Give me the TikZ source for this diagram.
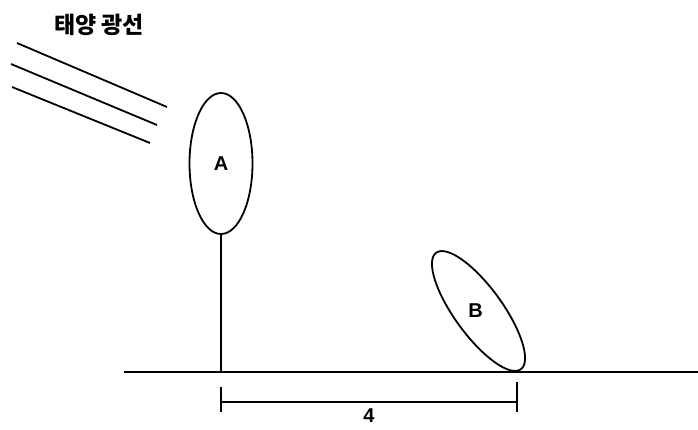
\documentclass[tikz,border=0pt]{standalone}
\usepackage{fontspec}
\setmainfont{Liberation Sans}
\newfontfamily\kofont{Noto Sans CJK KR}
\usepackage{tikz}
\usetikzlibrary{positioning,shapes.geometric}

\begin{document}
\begin{tikzpicture}[x=1pt,y=-1pt,
ln/.style={line width=1.8pt,black},
ell/.style={draw=black,line width=1.8pt,ellipse,inner sep=0pt},
lbl/.style={font=\fontsize{20}{20}\selectfont\bfseries,draw=none,fill=none},
title/.style={font=\kofont\fontsize{23}{23}\selectfont\bfseries}
]
\useasboundingbox (0,0) rectangle (698,429);
\node[title] (sun) at (99,25) {태양 광선};
\draw[ln] (17,43) -- (167,107);
\draw[ln] (11,64) -- (157,125);
\draw[ln] (12,87) -- (150,143);
\coordinate (g0) at (124,372);
\coordinate (g1) at (698,372);
\draw[ln] (g0) -- (g1);
\node[ell,minimum width=63,minimum height=141] (A) at (221,163.5) {};
\node[lbl] at (A.center) {A};
\draw[ln] (A.south) -- (A.south |- g0);
\node[ell,rotate=-54,minimum width=144,minimum height=48] (B) at (478.5,311) {};
\node[lbl] at ([xshift=-3pt]B.center) {B};
\coordinate (d0) at (221,402);
\coordinate (d1) at (517,402);
\draw[ln] (d0) -- (d1) node[midway,below=2pt,lbl]{4};
\draw[ln] ([yshift=15]d0) -- ([yshift=-10]d0);
\draw[ln] ([yshift=20]d1) -- ([yshift=-10]d1);
\end{tikzpicture}
\end{document}
